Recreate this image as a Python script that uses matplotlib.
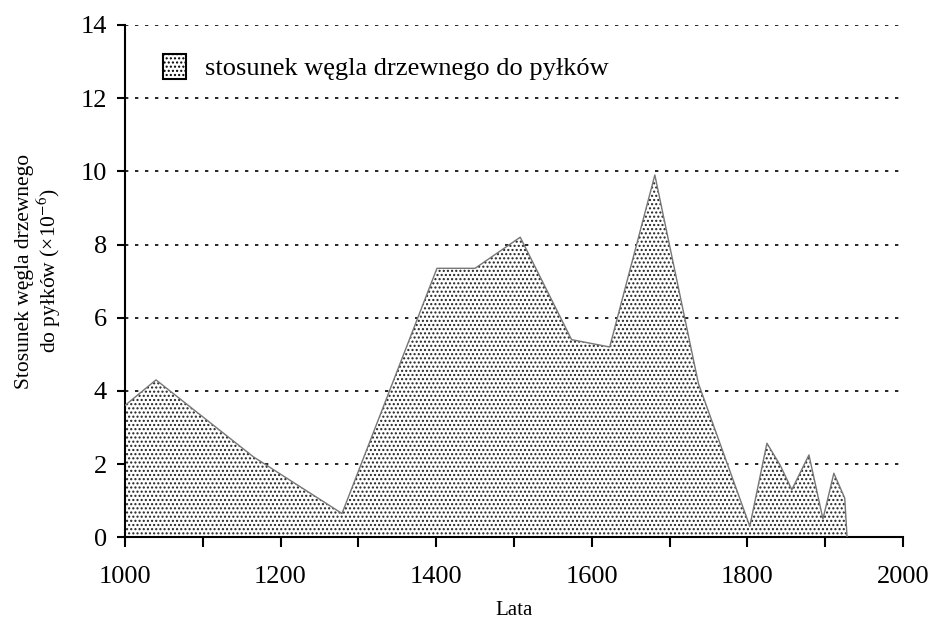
import numpy as np
import matplotlib.pyplot as plt
from matplotlib.patches import Patch

plt.rcParams['font.family'] = ['Liberation Serif', 'DejaVu Serif']
plt.rcParams['mathtext.fontset'] = 'stix'
plt.rcParams['hatch.linewidth'] = 1.0

# data
years = [1000, 1040, 1165, 1279, 1401, 1450, 1508, 1574, 1623, 1681, 1737,
         1803, 1825, 1842, 1857, 1879, 1897, 1911, 1925, 1928]
ratio = [3.6, 4.3, 2.2, 0.65, 7.35, 7.35, 8.2, 5.4, 5.2, 9.9, 4.2,
         0.3, 2.57, 1.97, 1.3, 2.25, 0.5, 1.75, 1.07, 0.0]

fig = plt.figure(figsize=(9.32, 6.24), dpi=100)
ax = fig.add_axes([0.134, 0.139, 0.835, 0.821])

ax.fill_between(years, ratio, 0, facecolor='white', edgecolor='#222222',
                hatch='....', linewidth=0.0, zorder=2)
ax.plot(years, ratio, color='#777777', linewidth=1.0, zorder=3)

ax.set_xlim(1000, 2000)
ax.set_ylim(0, 14)
ax.set_xticks(np.arange(1000, 2001, 200))
ax.set_xticks(np.arange(1100, 2000, 200), minor=True)
ax.set_yticks(np.arange(0, 15, 2))
for y in range(2, 15, 2):
    ax.axhline(y, color='black', linestyle=(0, (2, 4)), linewidth=1.2, zorder=1)

ax.spines['top'].set_visible(False)
ax.spines['right'].set_visible(False)
ax.spines['left'].set_linewidth(1.5)
ax.spines['bottom'].set_linewidth(1.5)
ax.tick_params(axis='both', which='both', labelsize=19, width=1.5, direction='out')
ax.tick_params(axis='x', which='both', length=7, pad=14)
ax.tick_params(axis='y', length=6, pad=7)

ax.set_xlabel('Lata', fontsize=15, labelpad=9)
fig.text(39 / 932, 1 - 271 / 624, 'Stosunek węgla drzewnego\ndo pyłków (×10$^{-6}$)',
         rotation=90, ha='center', va='center', multialignment='center',
         fontsize=15.5, linespacing=1.05)

handle = Patch(facecolor='white', edgecolor='black', hatch='....', linewidth=1.5)
ax.legend([handle], ['stosunek węgla drzewnego do pyłków'], loc='upper left',
          bbox_to_anchor=(0.018, 0.99), frameon=False, fontsize=19,
          handlelength=0.9, handleheight=1.1, handletextpad=0.7)

fig.savefig('out.png', dpi=100, facecolor='white')
